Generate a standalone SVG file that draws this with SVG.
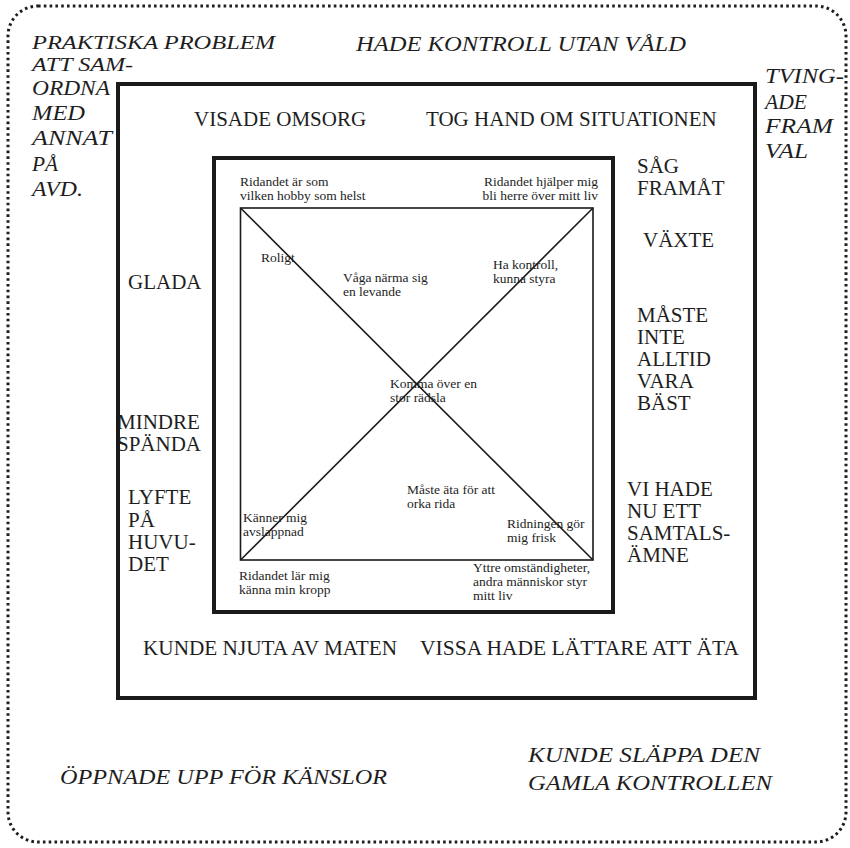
<svg xmlns="http://www.w3.org/2000/svg" width="850" height="848" viewBox="0 0 850 848">
<style>
.up{font-family:"Liberation Serif","DejaVu Serif","Times New Roman",serif;font-size:21px;fill:#1e1e1e}
.it{font-family:"Liberation Serif","DejaVu Serif","Times New Roman",serif;font-style:italic;font-size:21px;fill:#1e1e1e}
.it2{font-size:19.5px}
.sm{font-family:"Liberation Serif","DejaVu Serif","Times New Roman",serif;font-size:13.5px;fill:#1e1e1e}
.box{fill:none;stroke:#1a1a1a;stroke-width:4}
.diag{stroke:#1a1a1a;stroke-width:1.6;fill:none}
</style>
<rect width="850" height="848" fill="#ffffff"/>
<g id="outer-frame">
<rect x="8" y="6" width="838" height="836" rx="30" ry="30" fill="none" stroke="#1e1e1e" stroke-width="3" stroke-dasharray="2.6 3.2"/>
</g>
<g id="middle-frame">
<rect class="box" x="118" y="84" width="637" height="614"/>
</g>
<g id="inner-frame">
<rect class="box" x="214" y="158" width="399" height="454"/>
</g>
<g id="x-square">
<rect x="240.5" y="208" width="352.5" height="352" fill="none" stroke="#1a1a1a" stroke-width="1.6"/>
</g>
<g id="connectors">
<line class="diag" x1="240.5" y1="208" x2="593" y2="560"/>
<line class="diag" x1="593" y1="208" x2="240.5" y2="560"/>
</g>

<g id="praktiska">
<text class="it it2" x="32" y="49" textLength="243" lengthAdjust="spacingAndGlyphs">PRAKTISKA PROBLEM</text>
<text class="it it2" x="32" y="71" textLength="101" lengthAdjust="spacingAndGlyphs">ATT SAM-</text>
<text class="it" x="32" y="95" textLength="78" lengthAdjust="spacingAndGlyphs">ORDNA</text>
<text class="it" x="32" y="120" textLength="53" lengthAdjust="spacingAndGlyphs">MED</text>
<text class="it" x="32" y="145" textLength="80" lengthAdjust="spacingAndGlyphs">ANNAT</text>
<text class="it" x="32" y="171" textLength="26" lengthAdjust="spacingAndGlyphs">PÅ</text>
<text class="it" x="32" y="196" textLength="51" lengthAdjust="spacingAndGlyphs">AVD.</text>
</g>
<g id="hade-kontroll">
<text class="it" x="356" y="51" textLength="330" lengthAdjust="spacingAndGlyphs">HADE KONTROLL UTAN VÅLD</text>
</g>
<g id="tvingade">
<text class="it" x="765" y="83" textLength="79" lengthAdjust="spacingAndGlyphs">TVING-</text>
<text class="it" x="765" y="109" textLength="42" lengthAdjust="spacingAndGlyphs">ADE</text>
<text class="it" x="765" y="133" textLength="68" lengthAdjust="spacingAndGlyphs">FRAM</text>
<text class="it" x="765" y="158" textLength="43" lengthAdjust="spacingAndGlyphs">VAL</text>
</g>
<g id="oppnade">
<text class="it" x="60" y="784" textLength="327" lengthAdjust="spacingAndGlyphs">ÖPPNADE UPP FÖR KÄNSLOR</text>
</g>
<g id="kunde-slappa">
<text class="it" x="528" y="762" textLength="232" lengthAdjust="spacingAndGlyphs">KUNDE SLÄPPA DEN</text>
<text class="it" x="528" y="790" textLength="244" lengthAdjust="spacingAndGlyphs">GAMLA KONTROLLEN</text>
</g>

<g id="visade-omsorg"><text class="up" x="194" y="126">VISADE OMSORG</text></g>
<g id="tog-hand"><text class="up" x="426" y="126">TOG HAND OM SITUATIONEN</text></g>
<g id="sag-framat">
<text class="up" x="637" y="173">SÅG</text>
<text class="up" x="637" y="195">FRAMÅT</text>
</g>
<g id="vaxte"><text class="up" x="643" y="247">VÄXTE</text></g>
<g id="maste-inte">
<text class="up" x="637" y="322">MÅSTE</text>
<text class="up" x="637" y="344">INTE</text>
<text class="up" x="637" y="366">ALLTID</text>
<text class="up" x="637" y="388">VARA</text>
<text class="up" x="637" y="410">BÄST</text>
</g>
<g id="vi-hade">
<text class="up" x="627" y="496">VI HADE</text>
<text class="up" x="627" y="518">NU ETT</text>
<text class="up" x="627" y="540">SAMTALS-</text>
<text class="up" x="627" y="562">ÄMNE</text>
</g>
<g id="glada"><text class="up" x="128" y="289">GLADA</text></g>
<g id="mindre-spanda">
<text class="up" x="117" y="429">MINDRE</text>
<text class="up" x="117" y="451">SPÄNDA</text>
</g>
<g id="lyfte">
<text class="up" x="128" y="504">LYFTE</text>
<text class="up" x="128" y="527">PÅ</text>
<text class="up" x="128" y="549">HUVU-</text>
<text class="up" x="128" y="571">DET</text>
</g>
<g id="kunde-njuta"><text class="up" x="143" y="655" textLength="254" lengthAdjust="spacingAndGlyphs">KUNDE NJUTA AV MATEN</text></g>
<g id="vissa-hade"><text class="up" x="420" y="655" textLength="319" lengthAdjust="spacingAndGlyphs">VISSA HADE LÄTTARE ATT ÄTA</text></g>

<g id="hobby">
<text class="sm" x="240" y="186">Ridandet är som</text>
<text class="sm" x="240" y="200">vilken hobby som helst</text>
</g>
<g id="herre">
<text class="sm" x="598" y="186" text-anchor="end">Ridandet hjälper mig</text>
<text class="sm" x="598" y="200" text-anchor="end">bli herre över mitt liv</text>
</g>
<g id="roligt"><text class="sm" x="261" y="262">Roligt</text></g>
<g id="vaga">
<text class="sm" x="343" y="282">Våga närma sig</text>
<text class="sm" x="343" y="296">en levande</text>
</g>
<g id="ha-kontroll">
<text class="sm" x="493" y="269">Ha kontroll,</text>
<text class="sm" x="493" y="283">kunna styra</text>
</g>
<g id="komma-over">
<text class="sm" x="390" y="388">Komma över en</text>
<text class="sm" x="390" y="402">stor rädsla</text>
</g>
<g id="maste-ata">
<text class="sm" x="407" y="494">Måste äta för att</text>
<text class="sm" x="407" y="508">orka rida</text>
</g>
<g id="kanner">
<text class="sm" x="243" y="522">Känner mig</text>
<text class="sm" x="243" y="536">avslappnad</text>
</g>
<g id="ridningen">
<text class="sm" x="507" y="528">Ridningen gör</text>
<text class="sm" x="507" y="542">mig frisk</text>
</g>
<g id="kropp">
<text class="sm" x="239" y="580">Ridandet lär mig</text>
<text class="sm" x="239" y="594">känna min kropp</text>
</g>
<g id="yttre">
<text class="sm" x="473" y="572">Yttre omständigheter,</text>
<text class="sm" x="473" y="586">andra människor styr</text>
<text class="sm" x="473" y="600">mitt liv</text>
</g>
</svg>
